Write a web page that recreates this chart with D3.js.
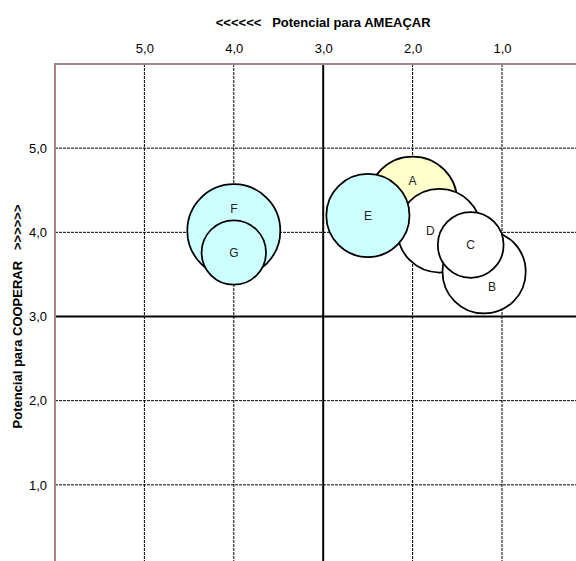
<!DOCTYPE html>
<html><head><meta charset="utf-8">
<script src="https://cdn.jsdelivr.net/npm/d3@7"></script>
<style>body{margin:0;background:#fff;overflow:hidden} text{font-family:Arial,"Liberation Sans",sans-serif}</style>
</head><body><svg id="c" width="576" height="561"></svg>
<script>
// Data
const labels   = ["A","B","C","D","E","F","G"];
const ameacar  = [2.0, 1.2, 1.35, 1.7, 2.5, 4.0, 4.0];
const cooperar = [4.37, 3.53, 3.85, 4.02, 4.2, 4.02, 3.76];
const sizes    = [4.6, 4.0, 2.5, 4.05, 4.0, 5.0, 2.4];
const fills    = ["#FFFFCC","#FFFFFF","#FFFFFF","#FFFFFF","#CCFFFF","#CCFFFF","#CCFFFF"];
const labelNudge = [[0,-20],[8,15],[0,0],[-9,0],[0,0],[0,-22],[0,0]];
const xTicks = [5,4,3,2,1];
const yTicks = [5,4,3,2,1];
const xTitle = "<<<<<<\u00A0\u00A0\u00A0Potencial para AMEAÇAR";
const yTitle = "Potencial para COOPERAR\u00A0\u00A0\u00A0>>>>>>";

const svg = d3.select("#c");
const L = 55, T = 64, R = 591.4, B = 569;
const x = d3.scaleLinear().domain([6,0]).range([L,R]);
const y = d3.scaleLinear().domain([6,0]).range([T,B]);
const r = d3.scaleSqrt().domain([0,5]).range([0,46.5]);
const fmt = v => d3.format(".1f")(v).replace(".", ",");
const FONT = "Arial, 'Liberation Sans', sans-serif";

// grid
const g = svg.append("g");
xTicks.forEach(v => {
  g.append("line").attr("x1",x(v)).attr("x2",x(v)).attr("y1",T).attr("y2",B)
    .attr("stroke","#000")
    .attr("stroke-width", v===3 ? 2 : 1)
    .attr("stroke-dasharray", v===3 ? null : "3,1");
});
yTicks.forEach(v => {
  g.append("line").attr("y1",y(v)).attr("y2",y(v)).attr("x1",L).attr("x2",R)
    .attr("stroke","#000")
    .attr("stroke-width", v===3 ? 2 : 1)
    .attr("stroke-dasharray", v===3 ? null : "3,1");
});
// plot border
svg.append("rect").attr("x",L).attr("y",T).attr("width",R-L).attr("height",B-T)
  .attr("fill","none").attr("stroke","#a88585").attr("stroke-width",2);

// axes labels
const xa = d3.axisTop(x).tickValues(xTicks).tickFormat(fmt).tickSize(0).tickPadding(0);
const xg = svg.append("g").attr("transform",`translate(0,53)`).call(xa);
xg.select(".domain").remove();
xg.selectAll("text").attr("font-size",13).attr("fill","#000").attr("font-family",FONT);

const ya = d3.axisLeft(y).tickValues(yTicks).tickFormat(fmt).tickSize(0).tickPadding(0);
const yg = svg.append("g").attr("transform",`translate(47,0)`).call(ya);
yg.select(".domain").remove();
yg.selectAll("text").attr("font-size",13).attr("fill","#000").attr("font-family",FONT);

// titles
svg.append("text").attr("x",(L+R)/2).attr("y",22).attr("dy","0.35em")
  .attr("text-anchor","middle").attr("font-size",13).attr("font-weight","bold")
  .text(xTitle);
svg.append("text").attr("transform",`translate(17,${(T+B)/2}) rotate(-90)`)
  .attr("dy","0.35em").attr("text-anchor","middle").attr("font-size",13).attr("font-weight","bold")
  .text(yTitle);

// bubbles
const data = labels.map((l,i)=>({l, x:ameacar[i], y:cooperar[i], s:sizes[i], f:fills[i], n:labelNudge[i], i}));
const order = data.slice().sort((a,b)=> d3.descending(a.s,b.s) || a.i-b.i);
svg.append("g").selectAll("circle").data(order).join("circle")
  .attr("cx",d=>x(d.x)).attr("cy",d=>y(d.y)).attr("r",d=>r(d.s))
  .attr("fill",d=>d.f).attr("stroke","#000").attr("stroke-width",1.75);
svg.append("g").selectAll("text").data(data).join("text")
  .attr("x",d=>x(d.x)+d.n[0]).attr("y",d=>y(d.y)+d.n[1]).attr("dy","0.35em")
  .attr("text-anchor","middle").attr("font-size",12).attr("fill","#222").text(d=>d.l);
</script></body></html>
